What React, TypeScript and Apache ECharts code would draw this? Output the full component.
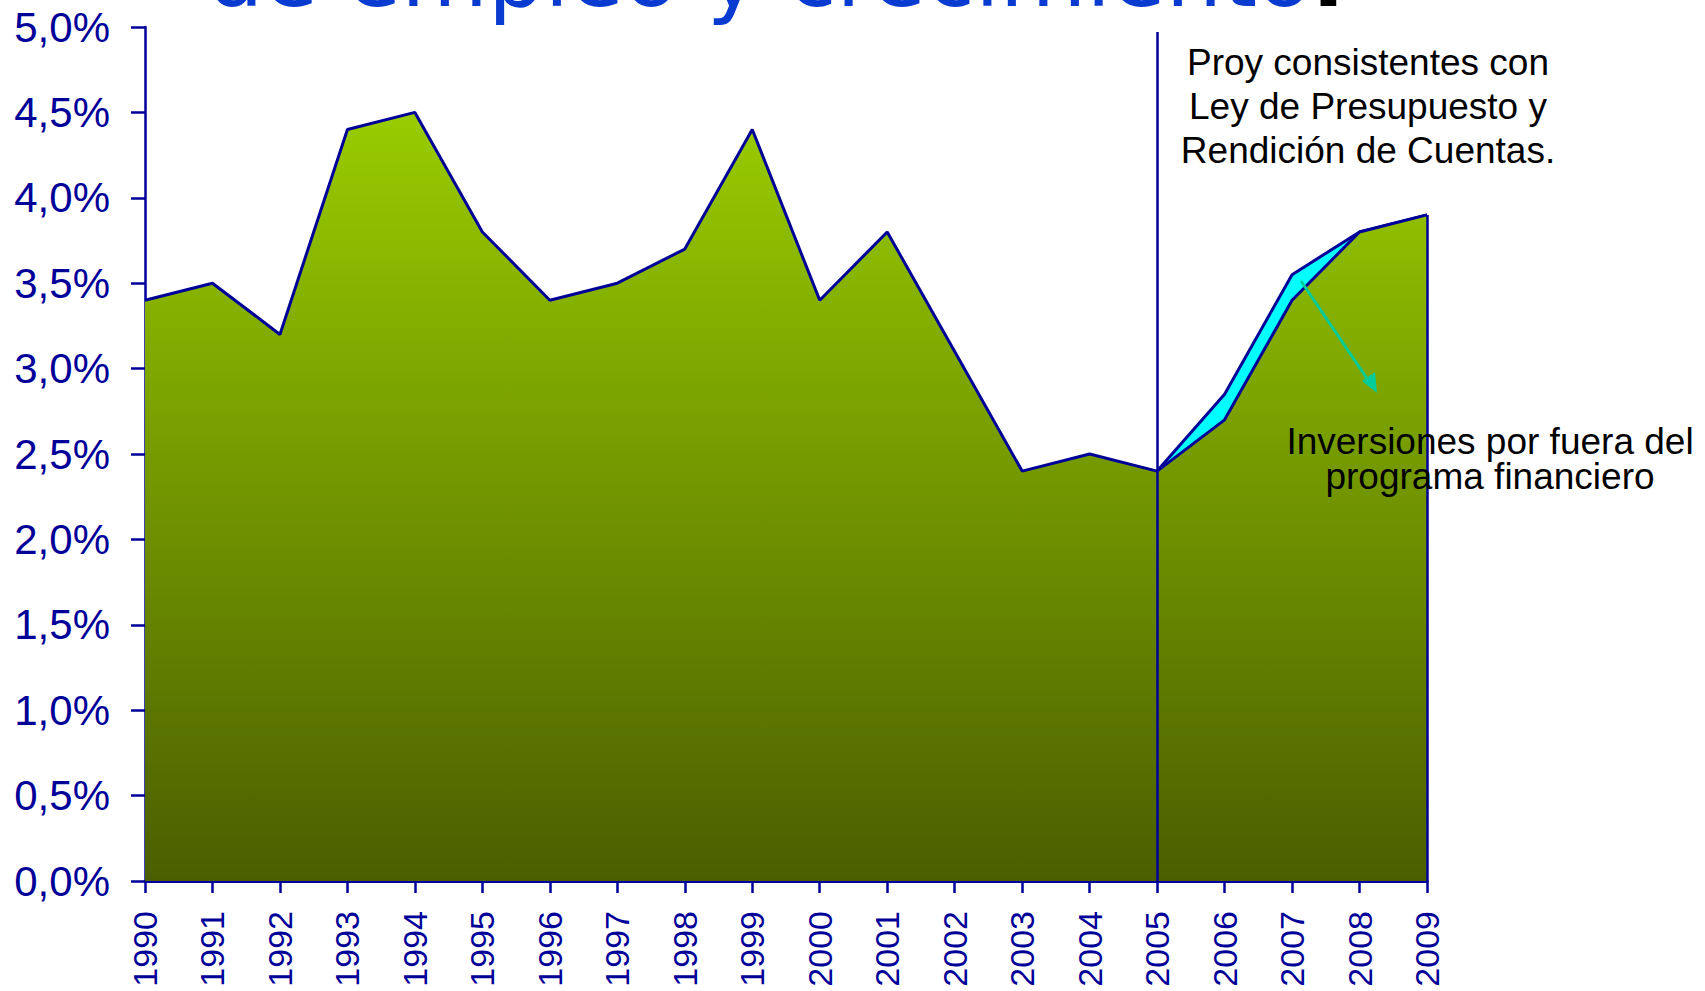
import React, { useEffect, useRef } from "react";
import * as echarts from "echarts";

const years = ["1990","1991","1992","1993","1994","1995","1996","1997","1998","1999","2000","2001","2002","2003","2004","2005","2006","2007","2008","2009"];
const growth = [3.4, 3.5, 3.2, 4.4, 4.5, 3.8, 3.4, 3.5, 3.7, 4.4, 3.4, 3.8, 3.1, 2.4, 2.5, 2.4, 2.7, 3.4, 3.8, 3.9];
const withInvest = [null, null, null, null, null, null, null, null, null, null, null, null, null, null, null, 2.4, 2.85, 3.55, 3.8, 3.9];
const yTicks = [0, 0.5, 1, 1.5, 2, 2.5, 3, 3.5, 4, 4.5, 5];

const titleText = "de empleo y crecimiento";
const note1 = ["Proy consistentes con", "Ley de Presupuesto y", "Rendición de Cuentas."];
const note2 = ["Inversiones por fuera del", "programa financiero"];

const NAVY = "#000099";

export default function App() {
  const ref = useRef<HTMLDivElement>(null);
  useEffect(() => {
    if (!ref.current) return;
    const chart = echarts.init(ref.current, null, { renderer: "svg" });
    chart.setOption({
      animation: false,
      backgroundColor: "#ffffff",
      grid: { left: 145, right: 278, top: 27, bottom: 110, containLabel: false },
      xAxis: {
        type: "category",
        data: years,
        boundaryGap: false,
        axisLine: { lineStyle: { color: NAVY, width: 3 } },
        axisTick: { show: true, length: 12, lineStyle: { color: NAVY, width: 2.5 }, alignWithLabel: true },
        axisLabel: { rotate: 90, margin: 30, color: NAVY, fontSize: 34, fontFamily: "Liberation Sans, Arial, sans-serif", interval: 0 },
        splitLine: { show: false },
      },
      yAxis: {
        type: "value",
        min: 0,
        max: 5,
        interval: 0.5,
        axisLine: { show: true, lineStyle: { color: NAVY, width: 2.5 } },
        axisTick: { show: true, length: 14, lineStyle: { color: NAVY, width: 2.5 } },
        axisLabel: {
          margin: 35,
          color: NAVY,
          fontSize: 42,
          fontFamily: "Liberation Sans, Arial, sans-serif",
          formatter: (v: number) => yTicks.includes(v) ? v.toFixed(1).replace(".", ",") + "%" : "",
        },
        splitLine: { show: false },
      },
      series: [
        {
          type: "line",
          name: "Con inversiones",
          data: withInvest,
          symbol: "none",
          connectNulls: false,
          z: 2,
          lineStyle: { color: NAVY, width: 3 },
          areaStyle: { color: "#00FFFF", opacity: 1 },
        },
        {
          type: "line",
          name: "Crecimiento",
          data: growth,
          symbol: "none",
          z: 3,
          lineStyle: { color: NAVY, width: 3 },
          areaStyle: {
            opacity: 1,
            color: new echarts.graphic.LinearGradient(0, 0, 0, 1, [
              { offset: 0, color: "#99CC00" },
              { offset: 1, color: "#4A5E00" },
            ]),
          },
          markLine: {
            silent: true,
            symbol: "none",
            label: { show: false },
            lineStyle: { color: NAVY, width: 2.5, type: "solid" },
            data: [
              [{ coord: ["2005", 0] }, { coord: ["2005", 4.97] }],
              [{ coord: ["2009", 0] }, { coord: ["2009", 3.9] }],
            ],
          },
        },
      ],
      graphic: [
        {
          type: "text",
          left: 207,
          top: -70,
          z: 10,
          style: {
            text: "{b|" + titleText + "}{k|.}",
            rich: {
              b: { fontSize: 89, fontFamily: "DejaVu Sans, sans-serif", fill: "#0A3BD0" },
              k: { fontSize: 89, fontFamily: "DejaVu Sans, sans-serif", fill: "#000000", fontWeight: "bold" },
            },
          },
        },
        {
          type: "text",
          x: 1368,
          y: 40,
          z: 10,
          style: {
            text: note1.join("\n"),
            fontSize: 37,
            lineHeight: 44,
            align: "center",
            verticalAlign: "top",
            fill: "#000000",
            fontFamily: "Liberation Sans, Arial, sans-serif",
          },
        },
        {
          type: "line",
          z: 10,
          shape: { x1: 1301, y1: 281, x2: 1370, y2: 383 },
          style: { stroke: "#00CC99", lineWidth: 3 },
        },
        {
          type: "polygon",
          z: 10,
          shape: { points: [[1377, 393], [1362, 381], [1375, 372]] },
          style: { fill: "#00CC99" },
        },
        {
          type: "text",
          x: 1490,
          y: 424,
          z: 10,
          style: {
            text: note2.join("\n"),
            fontSize: 37,
            lineHeight: 35,
            align: "center",
            verticalAlign: "top",
            fill: "#000000",
            fontFamily: "Liberation Sans, Arial, sans-serif",
          },
        },
      ],
    });
    return () => chart.dispose();
  }, []);
  return <div ref={ref} style={{ position: "fixed", left: 0, top: 0, width: 1705, height: 991 }} />;
}
